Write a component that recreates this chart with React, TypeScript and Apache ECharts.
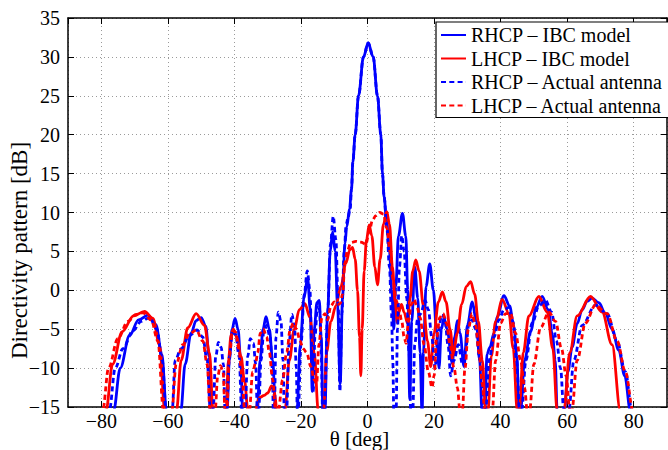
import React, { useEffect, useRef } from "react";
import * as echarts from "echarts";

const seriesNames = [
  "RHCP – IBC model",
  "LHCP – IBC model",
  "RHCP – Actual antenna",
  "LHCP – Actual antenna",
];

const rhcpIbc: [number, number][] = [
  [-78, -30], [-76.3, -15.5], [-74.3, -10], [-71.5, -5.8], [-68.8, -3.8], [-66, -3.2], [-63.6, -4.4], [-61.8, -8.2], [-60.4, -15.5], [-58, -30],
  [-56.1, -15.5], [-54.8, -9.5], [-53, -5.5], [-51.5, -3.9], [-50, -3.5], [-48.6, -4.6], [-47.6, -8.5], [-46.8, -15.5], [-44.5, -30],
  [-42.2, -15.5], [-41.5, -9], [-40.7, -5], [-39.8, -3.6], [-38.9, -5], [-38.1, -9], [-37.5, -15.5], [-35.2, -30],
  [-33.1, -15.5], [-32.3, -9], [-31.4, -5], [-30.5, -3.4], [-29.5, -5], [-28.5, -9], [-27.6, -15.5], [-24.3, -30],
  [-21.2, -15.5], [-20.2, -7], [-19.1, -1], [-18, 1.6], [-17.2, -2.5], [-16.6, -13], [-16.0, -5], [-15.2, -1.6], [-14.5, -1.3], [-13.9, -6], [-13.4, -15.5], [-13.1, -28],
  [-12.8, -15.5], [-12, -3], [-11.2, 5], [-10.5, 7.5], [-9.7, 5], [-9, -2], [-8.2, -12], [-7.5, -1], [-6.8, 6], [-6.2, 8.2], [-5.4, 10.5], [-4.8, 13], [-4.4, 16.5], [-3.7, 20], [-2.7, 25], [-1.2, 30], [0.2, 31.8], [1.7, 30], [3, 25], [4, 20], [4.5, 15], [5, 12], [5.7, 9], [6.6, 5], [7.3, 0], [7.9, -5], [8.5, 0.5], [9.3, 7], [10.5, 9.9], [11.5, 7], [12.1, 0], [12.7, -14], [13.3, -4], [14.2, 3], [15.1, -1], [15.8, -8], [16.4, -16], [16.8, -8], [17.6, 0.5], [18.7, 3.4], [19.8, 0], [20.7, -5], [21.5, -10], [22.2, -5], [23, -3.5], [23.9, -5], [25.5, -9.4], [26.2, -6], [27, -3.9], [27.8, -5.5], [29, -9.8], [30, -4.5], [31.5, -1.5], [32.7, -4], [33.7, -9], [34.4, -15.5], [34.8, -20], [35.3, -15.5], [35.9, -8.2], [36.8, -7.3], [38, -5.5], [39, -3.4], [41, -0.7], [42.7, -2], [44, -4.7], [44.9, -8.5], [45.5, -15.5], [45.7, -25],
  [46, -15.5], [47.2, -9], [49, -5.3], [50.7, -2.2], [52.5, -0.8], [54.3, -2.5], [55.6, -5.8], [56.4, -9], [57, -15.5], [58, -30],
  [59.2, -15.5], [60.2, -10.5], [61.5, -7.3], [63, -4.3], [64.5, -2.5], [66, -1.4], [67.5, -1.0], [69.5, -1.6], [71.5, -3], [73.5, -5], [75.5, -7.7], [77.3, -11], [79, -15.5], [80, -30],
];

const lhcpIbc: [number, number][] = [
  [-80, -30], [-78.6, -15.5], [-76.6, -9.5], [-73.7, -5.3], [-70.3, -3.3], [-67, -2.7], [-64.5, -3.6], [-62.5, -7], [-60.9, -15.5], [-59, -30],
  [-57.4, -15.5], [-56, -9], [-54, -4.8], [-51.5, -3.0], [-49, -4.5], [-47.5, -8], [-46.4, -15.5], [-44.5, -30],
  [-42.5, -15.5], [-41.8, -9], [-41, -5.8], [-40.3, -5], [-39.3, -6], [-38, -8.5], [-37, -11.5], [-35.9, -15.5], [-34.8, -25],
  [-33.8, -15.5], [-32.5, -13.8], [-31, -13.5], [-30, -13.2], [-28.8, -12.3], [-28, -13], [-27.2, -15.5], [-26, -25],
  [-24.8, -15.5], [-23.5, -9], [-22, -5], [-20.5, -2.5], [-18.8, -1.7], [-17.3, -3.5], [-16, -8], [-14.8, -15.5], [-14, -25],
  [-13.2, -15.5], [-12.3, -8], [-11, -4], [-9.5, -2], [-8, 0.5], [-6.5, 3.5], [-5.3, 5.2], [-4.5, 5.5], [-3.7, 4], [-3, 0], [-2.4, -6], [-2, -11], [-1.6, -5], [-1, 2.5], [-0.3, 6.5], [0.5, 8.4], [1.3, 7], [2.2, 3], [3, 0.7], [3.8, 4], [4.8, 8.5], [5.8, 10.1], [6.6, 8.5], [7.5, 3], [8.3, -1.5], [9, -4.2], [9.6, -2.5], [10.2, -1.8], [11, -2.8], [12, -4.2], [12.8, -1], [13.6, 2.5], [14.5, 3.9], [15.5, 2.5], [16.8, -2], [18, -6.5], [19, -9.8], [20, -5.5], [21.3, -1.5], [22.5, -0.2], [23.6, -1.5], [24.8, -5], [25.8, -8.3], [27, -5.5], [28.3, -1.8], [29.7, 0.5], [31, 1.1], [32.2, -0.5], [33.3, -4], [34.5, -9], [35.5, -15.5], [35.85, -25],
  [36.2, -15.5], [37.2, -8.5], [38.5, -4], [40.5, -1.2], [42.5, -3], [43.8, -7.5], [45, -15.5], [45.3, -25],
  [45.6, -15.5], [46.8, -8], [48.5, -3.3], [51.5, -0.8], [54, -2.8], [55.7, -7.5], [57, -15.5], [58, -30],
  [59, -15.5], [60.8, -8], [63, -3.3], [67, -0.8], [70.5, -2.8], [73.5, -7], [76, -15.5], [77, -30],
];

const rhcpActual: [number, number][] = [
  [-79, -30], [-77.6, -15.5], [-75.8, -10], [-73.5, -7.5], [-70.5, -5.2], [-68, -4], [-65.5, -3.5], [-63.3, -5], [-61.7, -9], [-60.5, -15.5], [-59.6, -30],
  [-58.7, -15.5], [-57.8, -9], [-56, -7.5], [-53.5, -5.8], [-51.2, -5.1], [-49.5, -6], [-48.2, -9], [-47.2, -15.5], [-46.8, -25],
  [-46.4, -15.5], [-45.6, -8.5], [-44.8, -6.7], [-44, -7.3], [-43.3, -9.5], [-42.8, -15.5], [-42.55, -25],
  [-42.3, -15.5], [-41.5, -8.5], [-40.6, -5.5], [-39.6, -5.7], [-38.6, -8.5], [-37.8, -15.5], [-37.3, -25],
  [-36.8, -15.5], [-36, -8.5], [-35.2, -6.2], [-34.3, -6.8], [-33.6, -9.5], [-33.1, -15.5], [-32.9, -25],
  [-32.7, -15.5], [-32, -9], [-31.2, -5.5], [-30.3, -4.5], [-29.3, -6], [-28.6, -10], [-28.3, -15.5], [-28.15, -25],
  [-28, -15.5], [-27.5, -6], [-26.8, -2.8], [-26, -4], [-25.4, -9], [-25, -15.5], [-24.65, -25],
  [-24.3, -15.5], [-23.6, -7], [-22.7, -3.1], [-21.9, -5], [-21.4, -10], [-21.1, -15.5], [-20.95, -25],
  [-20.8, -15.5], [-20, -7], [-19, -0.5], [-18.1, 2.5], [-17.3, 0], [-16.7, -8], [-16.3, -13], [-15.8, -6], [-15, -1.8], [-14.4, -2.5], [-13.9, -8], [-13.5, -15.5], [-13.2, -25],
  [-12.9, -15.5], [-12, -3], [-11.1, 6], [-10.3, 9.5], [-9.5, 6.5], [-8.8, -2], [-8.3, -13], [-7.7, -3], [-7, 5], [-6.4, 8.5], [-5.8, 9.4], [-5.2, 10.5], [-4.8, 13], [-4.4, 16.5], [-3.7, 20], [-2.7, 25], [-1.2, 30], [0.2, 31.8], [1.7, 30], [3, 25], [4, 20], [4.5, 15], [5, 12], [5.8, 8], [6.6, 3], [7.2, -3], [7.6, -9], [7.9, -15.5], [8.25, -25],
  [8.6, -15.5], [9, -5], [9.6, 3], [10.3, 7], [11, 5], [11.8, -1], [12.5, -8], [13, -15.5], [13.3, -25],
  [13.6, -15.5], [14.2, -7], [15, -3.8], [16, -3], [17.3, -1.3], [18.3, -2.5], [19.3, -6], [20.3, -10], [21.2, -5.5], [22.3, -3.2], [23.2, -3.5], [24.2, -7], [25, -11], [26, -9], [27.3, -7], [28.5, -9.4], [29.5, -7.5], [30.5, -4.2], [31.5, -3.8], [32.5, -5], [33.8, -9], [34.8, -15.5], [35.1, -25],
  [35.5, -15.5], [36.5, -9], [38, -6], [39.5, -3.8], [41, -2.5], [42.5, -2.2], [43.7, -4], [44.8, -9], [45.7, -15.5], [46, -25],
  [46.3, -15.5], [47.6, -9], [49.5, -4.2], [51.5, -2], [53.5, -1.3], [55.3, -2.8], [56.8, -6.5], [58, -10], [59, -15.5], [59.7, -30],
  [60.5, -15.5], [62, -9], [64.5, -4.5], [68.5, -1.9], [72, -3], [75, -6.5], [77.5, -10.5], [79.5, -15.5], [80.5, -30],
];

const lhcpActual: [number, number][] = [
  [-81, -30], [-79.6, -15.5], [-77.8, -10], [-75, -6.2], [-72, -4], [-69.5, -3.1], [-67.5, -2.9], [-65, -3.8], [-63, -6.5], [-61.3, -15.5], [-60, -30],
  [-58.8, -15.5], [-57.5, -9.5], [-55.5, -7], [-53.5, -5.6], [-51.5, -5.1], [-49.5, -6.5], [-48.2, -9.5], [-47.3, -15.5], [-46.6, -25],
  [-45.8, -15.5], [-45, -11], [-44.2, -9.7], [-43.4, -10.5], [-42.8, -15.5], [-42.55, -25],
  [-42.3, -15.5], [-41.5, -8.5], [-40.6, -5.3], [-39.7, -5.3], [-38.7, -7.5], [-37.7, -11], [-36.9, -15.5], [-36.2, -25],
  [-35.5, -15.5], [-34.5, -10.5], [-33.6, -9.3], [-33, -8], [-32.2, -5.5], [-31.3, -5], [-30.3, -6], [-29.5, -8], [-28.5, -11.5], [-27.6, -15.5], [-27.2, -25],
  [-26.8, -15.5], [-25.5, -11.5], [-24.3, -8], [-23.2, -5], [-22.3, -4.2], [-21.3, -5], [-20.3, -6.5], [-19.3, -7.5], [-18.3, -8], [-17, -9.8], [-16, -11.5], [-15.3, -12], [-14.6, -7], [-13.7, -3.5], [-12.8, -3], [-12, -3.8], [-11, -2], [-10, -1.5], [-9, -1.8], [-8.2, -1.7], [-7.5, -0.5], [-6.8, 3.5], [-6, 5.2], [-5, 6.1], [-3.5, 6.3], [-2, 6.2], [-0.5, 5.9], [0.5, 7.5], [1.5, 9], [2.5, 9.6], [3.7, 10], [4.8, 9.8], [5.8, 8], [6.8, 5], [7.8, 1], [8.6, -1.3], [9.5, -2.5], [10.3, -4], [11, -6], [11.6, -6.8], [12.3, -4], [13.2, -1.8], [14, -1.2], [14.8, -2], [15.8, -3.5], [17, -7], [18.3, -10.5], [19.4, -12.5], [20, -11], [20.8, -6], [21.7, -3.5], [22.7, -3], [23.7, -4.2], [24.8, -7], [26, -10], [27, -12.5], [27.8, -15.5], [28.15, -25],
  [28.5, -15.5], [29.3, -10], [30.3, -5], [31.4, -3], [32.5, -4.5], [33.5, -8], [34.5, -12], [35.2, -15.5], [36.3, -25],
  [37.5, -15.5], [38.5, -9], [40, -4.2], [41.5, -3], [43, -3], [44.5, -5.5], [46, -9], [47.2, -12.5], [48, -15.5], [48.35, -25],
  [48.7, -15.5], [50, -9.5], [52, -4.8], [54.5, -2.8], [56.5, -4], [58.3, -7.5], [59.7, -11], [60.8, -15.5], [61.1, -25],
  [61.4, -15.5], [63, -9], [65.5, -4.2], [68.5, -1.9], [72, -3], [75, -6.5], [77.5, -10.5], [79.8, -15.5], [80.5, -30],
];

const seriesData = [rhcpIbc, lhcpIbc, rhcpActual, lhcpActual];
const seriesColors = ["#0000ff", "#ff0000", "#0000ff", "#ff0000"];
const seriesDashed = [false, false, true, true];

const xMin = -90;
const xMax = 90;
const xStep = 20;
const yMin = -15;
const yMax = 35;
const yStep = 5;

const FONT = "'Liberation Serif', 'Times New Roman', serif";

const fmt = (v: number) => String(v).replace("-", "\u2212");

export default function App() {
  const ref = useRef<HTMLDivElement>(null);
  useEffect(() => {
    if (!ref.current) return;
    const chart = echarts.init(ref.current, undefined, { renderer: "svg" });
    const gridLine = { show: true, lineStyle: { color: "#9a9a9a", type: [1, 3] as any, width: 1 } };
    const axisLine = { show: true, onZero: false, lineStyle: { color: "#000", width: 1.5 } };
    const tick = { show: true, inside: true, length: 6, lineStyle: { color: "#000", width: 1 } };
    const labelStyle = { color: "#000", fontFamily: FONT, fontSize: 20 };
    const nameStyle = { color: "#000", fontFamily: FONT, fontSize: 22 };
    chart.setOption({
      animation: false,
      backgroundColor: "#fff",
      grid: { left: 68, right: 1, top: 18, bottom: 43, containLabel: false, outerBoundsMode: "none" },
      legend: {
        orient: "vertical",
        left: 436,
        top: 22,
        padding: [2, 6, 1, 4],
        itemGap: 1.5,
        itemWidth: 25,
        itemHeight: 4,
        backgroundColor: "#fff",
        borderColor: "#000",
        borderWidth: 1.2,
        borderRadius: 0,
        itemStyle: { opacity: 0 },
        textStyle: { ...labelStyle, lineHeight: 22 },
        data: seriesNames,
      },
      xAxis: [
        {
          type: "value",
          min: xMin,
          max: xMax,
          minInterval: xStep,
          maxInterval: xStep,
          splitNumber: 9,
          position: "bottom",
          axisLine,
          axisTick: tick,
          splitLine: gridLine,
          axisLabel: {
            ...labelStyle,
            lineHeight: 16,
            margin: 6,
            showMinLabel: false,
            showMaxLabel: false,
            formatter: (v: number) => (Math.abs(v) >= 90 ? "" : fmt(v)),
          },
          name: "\u03b8 [deg]",
          nameLocation: "middle",
          nameGap: 23,
          nameMoveOverlap: false,
          nameTextStyle: { ...nameStyle, fontSize: 21, lineHeight: 18, padding: [0, 16, 0, 0] },
        },
        {
          type: "value",
          min: xMin,
          max: xMax,
          minInterval: xStep,
          maxInterval: xStep,
          splitNumber: 9,
          position: "top",
          axisLine,
          axisTick: tick,
          splitLine: { show: false },
          axisLabel: { show: false },
        },
      ],
      yAxis: [
        {
          type: "value",
          min: yMin,
          max: yMax,
          interval: yStep,
          position: "left",
          axisLine,
          axisTick: tick,
          splitLine: gridLine,
          axisLabel: { ...labelStyle, margin: 8, formatter: fmt },
          name: "Directivity pattern [dB]",
          nameLocation: "middle",
          nameGap: 38,
          nameRotate: 90,
          nameMoveOverlap: false,
          nameTextStyle: { ...nameStyle, fontSize: 23, lineHeight: 22, padding: [0, 76, 0, 0] },
        },
        {
          type: "value",
          min: yMin,
          max: yMax,
          interval: yStep,
          position: "right",
          axisLine,
          axisTick: tick,
          splitLine: { show: false },
          axisLabel: { show: false },
        },
      ],
      series: seriesData.map((d, i) => ({
        name: seriesNames[i],
        type: "line",
        xAxisIndex: 0,
        yAxisIndex: 0,
        data: d,
        symbol: "none",
        showSymbol: false,
        smooth: 0.35,
        smoothMonotone: "x",
        clip: true,
        color: seriesColors[i],
        lineStyle: {
          color: seriesColors[i],
          width: 2.8,
          type: seriesDashed[i] ? [5, 3.3] : "solid",
        },
        emphasis: { disabled: true },
      })),
    });
    return () => chart.dispose();
  }, []);
  return (
    <div
      ref={ref}
      style={{ position: "fixed", left: 0, top: 0, width: 668, height: 450, background: "#fff" }}
    />
  );
}
